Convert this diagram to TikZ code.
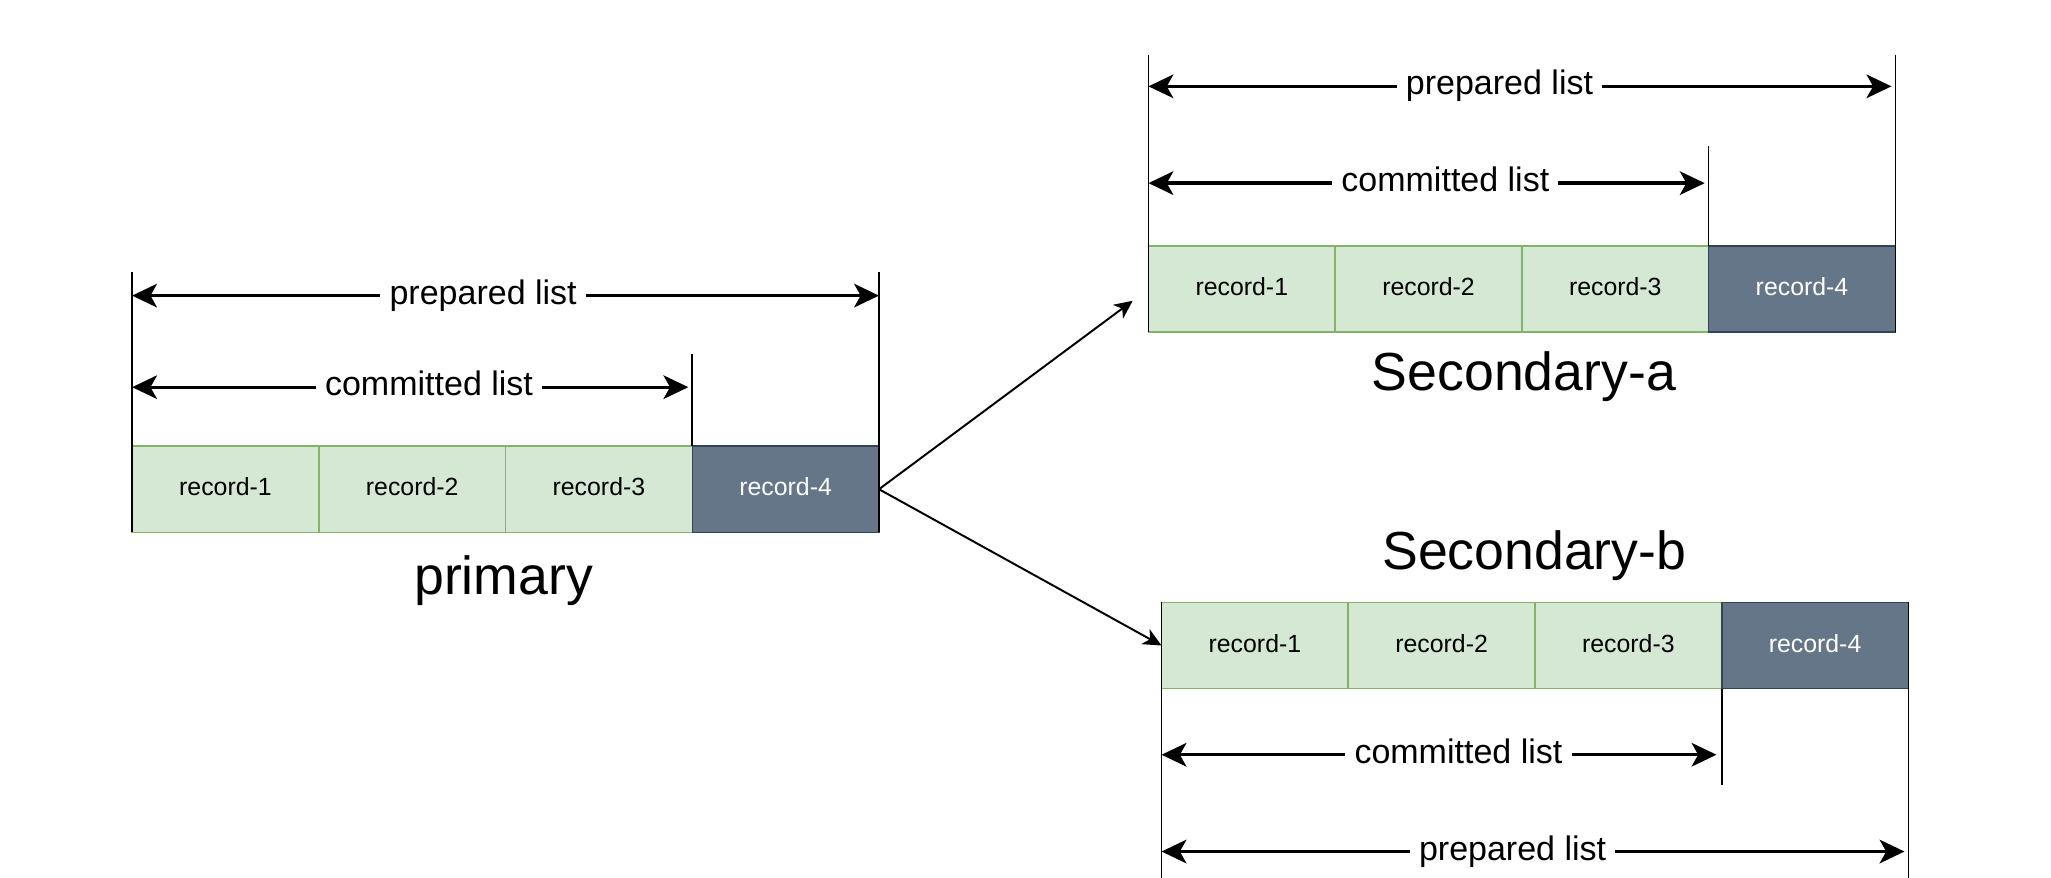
\documentclass[tikz,border=0pt]{standalone}
\usepackage{fontspec}
\setmainfont{Liberation Sans}
\usetikzlibrary{arrows.meta,positioning}
\definecolor{recgreen}{HTML}{D5E8D4}
\definecolor{recgreenline}{HTML}{82B366}
\definecolor{recslate}{HTML}{647687}
\definecolor{recslateline}{HTML}{314354}

\tikzset{
  rec/.style={draw=recgreenline, fill=recgreen, line width=1.2pt,
    minimum width=142.75pt, minimum height=66pt, inner sep=0pt, outer sep=0pt,
    text height=14pt, text depth=4pt, font=\fontsize{19}{22}\selectfont},
  reclast/.style={rec, draw=recslateline, fill=recslate, text=white},
  tick/.style={line width=1.3pt},
  dim/.style={line width=2.5pt,
    {Stealth[length=19pt,width=18pt,inset=5pt]}-{Stealth[length=19pt,width=18pt,inset=5pt]}},
  lbl/.style={fill=white, inner xsep=7pt, inner ysep=1pt,
    text height=20pt, text depth=7pt, font=\fontsize{26}{30}\selectfont},
  title/.style={font=\fontsize{41}{48}\selectfont},
  link/.style={line width=1.5pt, -{Stealth[length=14pt,width=13pt,inset=4pt]}}
}

\begin{document}
\begin{tikzpicture}[x=1pt,y=-1pt]
  \useasboundingbox (0,0) rectangle (1568,671);

  % primary
  \foreach \i in {1,2,3}
    \node[rec] (p\i) at ({101+142.75*(\i-0.5)},374) {record-\i};
  \node[reclast, right=0pt of p3] (p4) {record-4};
  \node[title] (primary) at (385,444) {primary};
  \coordinate (ptop) at (0,208);
  \coordinate (pctop) at (0,271);
  \coordinate (pprep) at (0,226);
  \coordinate (pcomm) at (0,296);
  \draw[tick] (p1.south west) -- (p1.west |- ptop);
  \draw[tick] (p4.south east) -- (p4.east |- ptop);
  \draw[tick] (p3.north east) -- (p3.east |- pctop);
  \draw[dim] (p1.west |- pprep) -- node[lbl,pos=.47] {prepared list} (p4.east |- pprep);
  \draw[dim,shorten >=3pt] (p1.west |- pcomm) -- node[lbl,pos=.53] {committed list} (p3.east |- pcomm);

  % secondary a
  \foreach \i in {1,2,3}
    \node[rec] (a\i) at ({878+142.75*(\i-0.5)},221) {record-\i};
  \node[reclast, right=0pt of a3] (a4) {record-4};
  \node[title] (seca) at (1165,288) {Secondary-a};
  \coordinate (atop) at (0,42);
  \coordinate (actop) at (0,112);
  \coordinate (aprep) at (0,66);
  \coordinate (acomm) at (0,140);
  \draw[tick] (a1.south west) -- (a1.west |- atop);
  \draw[tick] (a4.south east) -- (a4.east |- atop);
  \draw[tick] (a3.north east) -- (a3.east |- actop);
  \draw[dim,shorten >=3pt] (a1.west |- aprep) -- node[lbl,pos=.47] {prepared list} (a4.east |- aprep);
  \draw[dim,shorten >=3pt] (a1.west |- acomm) -- node[lbl,pos=.53] {committed list} (a3.east |- acomm);

  % secondary b
  \foreach \i in {1,2,3}
    \node[rec] (b\i) at ({888+142.75*(\i-0.5)},493.5) {record-\i};
  \node[reclast, right=0pt of b3] (b4) {record-4};
  \node[title] (secb) at (1173,425) {Secondary-b};
  \coordinate (bbot) at (0,680);
  \coordinate (bcbot) at (0,600);
  \coordinate (bprep) at (0,651);
  \coordinate (bcomm) at (0,577);
  \draw[tick] (b1.north west) -- (b1.west |- bbot);
  \draw[tick] (b4.north east) -- (b4.east |- bbot);
  \draw[tick] (b3.south east) -- (b3.east |- bcbot);
  \draw[dim,shorten >=3pt] (b1.west |- bprep) -- node[lbl,pos=.47] {prepared list} (b4.east |- bprep);
  \draw[dim,shorten >=4pt] (b1.west |- bcomm) -- node[lbl,pos=.53] {committed list} (b3.east |- bcomm);

  % replication
  \draw[link,shorten >=15pt] (p4.east) -- (a1.west);
  \draw[link] (p4.east) -- (b1.west);
\end{tikzpicture}
\end{document}
